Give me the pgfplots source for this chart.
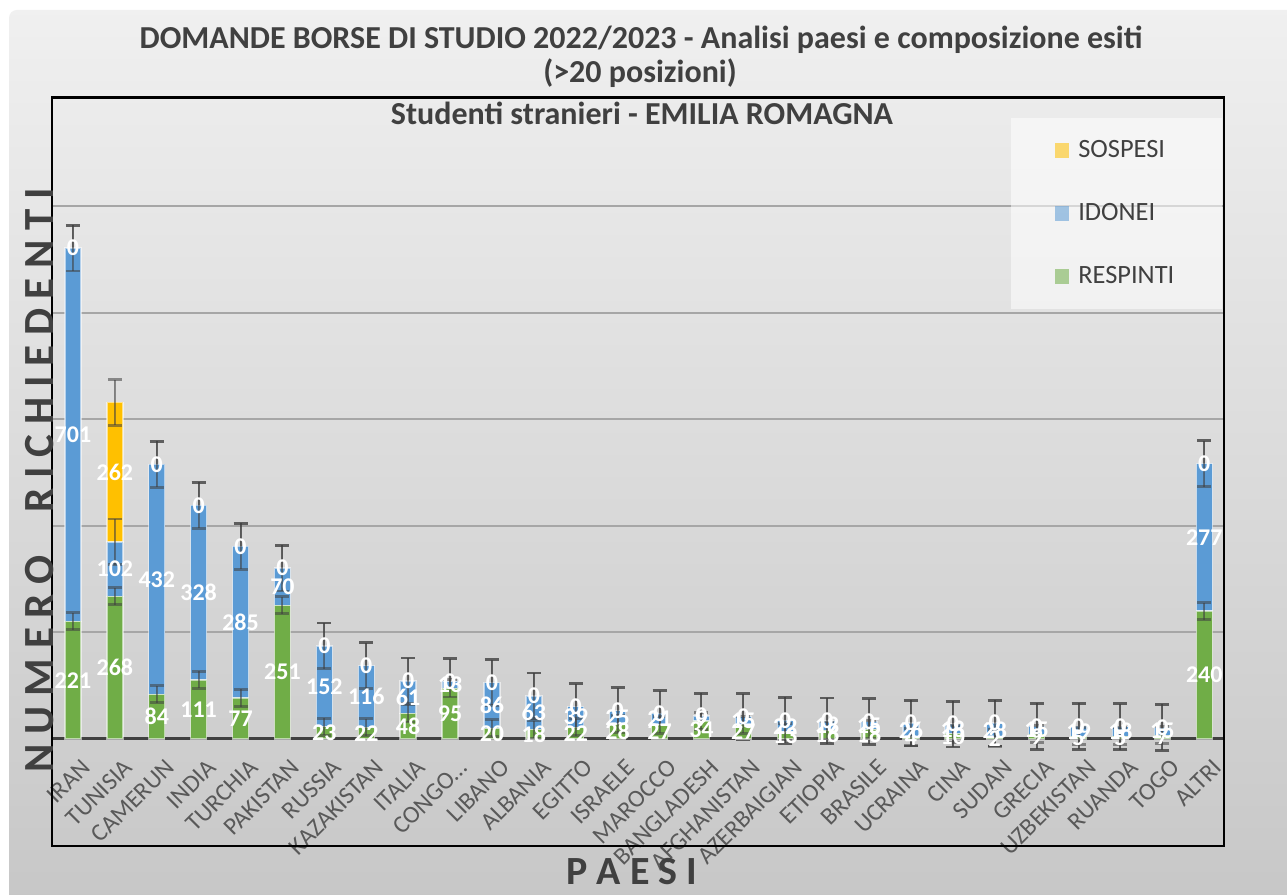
\documentclass[border=0pt]{standalone}
\usepackage{fontspec}
\setmainfont{Carlito}
\usepackage{pgfplots}
\pgfplotsset{compat=1.18}
\usepackage{pgfplotstable}

\definecolor{resp}{HTML}{70AD47}
\definecolor{idon}{HTML}{5B9BD5}
\definecolor{sosp}{HTML}{FFC000}
\definecolor{txt}{HTML}{404040}
\definecolor{lbl}{HTML}{595959}

% paese, respinti, idonei, sospesi
\pgfplotstableread{
x paese resp idon sosp
0 IRAN 221 701 0
1 TUNISIA 268 102 262
2 CAMERUN 84 432 0
3 INDIA 111 328 0
4 TURCHIA 77 285 0
5 PAKISTAN 251 70 0
6 RUSSIA 23 152 0
7 KAZAKISTAN 22 116 0
8 ITALIA 48 61 0
9 CONGO… 95 13 0
10 LIBANO 20 86 0
11 ALBANIA 18 63 0
12 EGITTO 22 39 0
13 ISRAELE 28 25 0
14 MAROCCO 27 21 0
15 BANGLADESH 34 9 0
16 AFGHANISTAN 27 15 0
17 AZERBAIGIAN 13 22 0
18 ETIOPIA 16 18 0
19 BRASILE 18 15 0
20 UCRAINA 4 26 0
21 CINA 10 18 0
22 SUDAN 2 28 0
23 GRECIA 9 15 0
24 UZBEKISTAN 5 19 0
25 RUANDA 5 18 0
26 TOGO 7 15 0
27 ALTRI 240 277 0
}\dati

\pgfplotsset{
  geom/.style={at={(26pt,78pt)}, anchor=south west,
    x=20.95pt, y=0.26625pt,
    xmin=-0.5, xmax=27.5, ymin=0, ymax=1205, clip=false},
}
\tikzset{
  etichetta/.style={anchor=center, text=white,
    font=\bfseries\fontsize{12}{14}\selectfont},
}

\begin{document}
\begin{tikzpicture}
% sfondo
\fill[white] (0,0) rectangle (643.5pt,447.5pt);
\shade[top color=black!6, bottom color=black!22, rounded corners=4pt]
  (4.5pt,-6pt) rectangle (650pt,442.5pt);

\begin{axis}[
  geom,
  ybar stacked, bar width=8pt,
  axis x line*=bottom, axis y line*=left,
  x axis line style={draw=txt, line width=1.5pt},
  y axis line style={draw=black, line width=1.2pt},
  ytick={200,400,600,800,1000}, yticklabels={},
  y tick style={draw=none}, x tick style={draw=none},
  ymajorgrids, grid style={draw=black!35, line width=1pt},
  xtick={0,...,27},
  xticklabels from table={\dati}{paese},
  xticklabel style={rotate=45, anchor=east, text=lbl,
    font=\fontsize{12.3}{14}\selectfont, xshift=-0.6pt, yshift=-13.4pt},
  every axis plot/.append style={draw=white, draw opacity=0.55, line width=0.7pt},
  point meta=explicit,
  /pgf/number format/assume math mode=true,
  nodes near coords,
  every node near coord/.append style={etichetta},
  legend style={at={(rel axis cs:0.817,0.968)}, anchor=north west,
    draw=none, fill=white, fill opacity=0.55, text opacity=1,
    inner xsep=22pt, inner ysep=9pt, row sep=17.5pt,
    /tikz/every odd column/.append style={column sep=2.5pt},
    font=\fontsize{13.2}{15}\selectfont, text=txt},
  legend cell align=left,
  reverse legend,
  legend image code/.code={\fill[#1, draw=none] (0pt,-3.6pt) rectangle (7.2pt,3.6pt);},
]
\addplot[fill=resp, error bars/.cd, y dir=both, y fixed=16,
  error bar style={txt, line width=1pt},
  error mark options={txt, line width=1.4pt, mark size=3.5pt, rotate=90}]
  table[x=x, y=resp, meta=resp] {\dati};
\addplot[fill=idon, error bars/.cd, y dir=both, y fixed=43,
  error bar style={txt, line width=1pt},
  error mark options={txt, line width=1.4pt, mark size=3.5pt, rotate=90}]
  table[x=x, y=idon, meta=idon] {\dati};
\addplot[fill=sosp, error bars/.cd, y dir=both, y fixed=43,
  error bar style={txt, line width=1pt},
  error mark options={txt, line width=1.4pt, mark size=3.5pt, rotate=90}]
  table[x=x, y=sosp, meta=sosp] {\dati};
\legend{RESPINTI, IDONEI, SOSPESI}
\end{axis}

% etichette "0" dei SOSPESI vuoti, in cima alle colonne
\begin{axis}[geom, hide axis,
  point meta=explicit,
  /pgf/number format/assume math mode=true]
\addplot[draw=none, mark=none, nodes near coords,
  every node near coord/.append style={etichetta},
  restrict expr to domain={\thisrow{sosp}}{0:0}]
  table[x=x, y expr=\thisrow{resp}+\thisrow{idon}+\thisrow{sosp}, meta=sosp] {\dati};
\end{axis}

% cornice dell'area del grafico
\draw[black, line width=1.2pt] (26pt,24.5pt) rectangle (612pt,398.75pt);

% titoli
\node[anchor=base, text=txt, font=\bfseries\fontsize{16}{18}\selectfont] at (320.5pt,423pt)
  {DOMANDE BORSE DI STUDIO 2022/2023 - Analisi paesi e composizione esiti};
\node[anchor=base, text=txt, font=\bfseries\fontsize{16}{18}\selectfont] at (320pt,406pt)
  {(>20 posizioni)};
\node[anchor=base, text=txt, font=\bfseries\fontsize{16}{18}\selectfont] at (321pt,385pt)
  {Studenti stranieri - EMILIA ROMAGNA};

% titoli degli assi
\node[rotate=90, text=txt, font=\bfseries\fontsize{21.5}{26}\selectfont] at (20pt,207.5pt)
  {N U M E R O\quad R I C H I E D E N T I};
\node[anchor=base, text=txt, font=\bfseries\fontsize{20}{24}\selectfont] at (316pt,5pt)
  {P A E S I};

\pgfresetboundingbox
\path (0,0) rectangle (643.5pt,447.5pt);
\end{tikzpicture}
\end{document}
